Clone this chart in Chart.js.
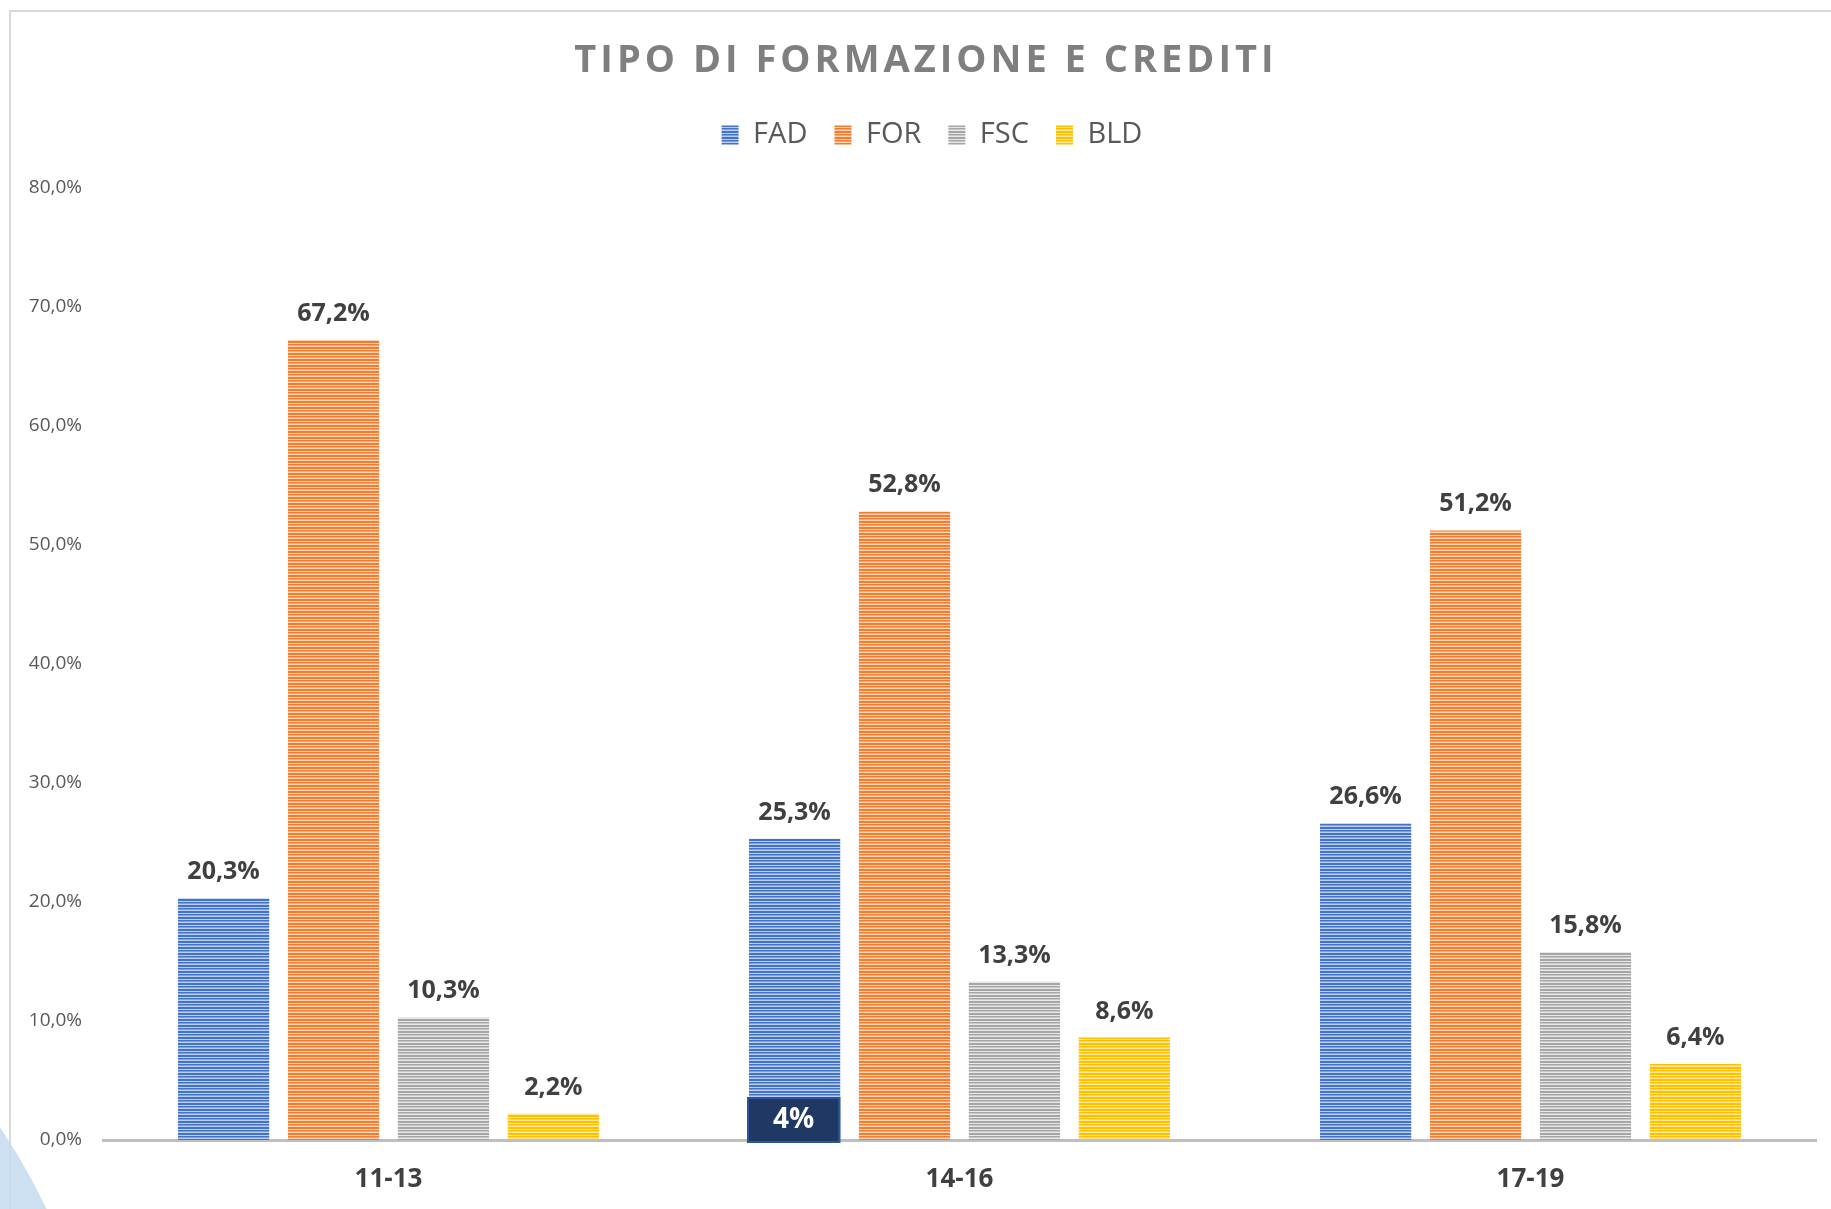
<!DOCTYPE html>
<html>
<head>
<meta charset="utf-8">
<script src="https://cdn.jsdelivr.net/npm/chart.js@4.4.1/dist/chart.umd.min.js"></script>
<style>
  html, body { margin: 0; padding: 0; background: #ffffff; overflow: hidden; width: 1831px; height: 1209px; }
  #card { position: absolute; left: 9px; top: 10px; width: 1900px; height: 1300px; border: 2px solid #D9D9D9; box-sizing: border-box; }
  #arc { position: absolute; left: -1096px; top: 865px; width: 1200px; height: 1200px; border-radius: 50%; background: rgba(196, 218, 240, 0.85); }
  #wrap { position: absolute; left: 0; top: 0; width: 1852px; height: 1209px; }
</style>
</head>
<body>
<div id="card"></div>
<div id="arc"></div>
<div id="wrap"><canvas id="c" width="1852" height="1209"></canvas></div>
<script>
// ---- Data ----
const chartTitle = 'TIPO DI FORMAZIONE E CREDITI';
const categories = ['11-13', '14-16', '17-19'];
const seriesNames = ['FAD', 'FOR', 'FSC', 'BLD'];
const fadValues = [20.3, 25.3, 26.6];
const forValues = [67.2, 52.8, 51.2];
const fscValues = [10.3, 13.3, 15.8];
const bldValues = [2.2, 8.6, 6.4];
const yTickValues = [0, 10, 20, 30, 40, 50, 60, 70, 80];
const yTickLabels = ['0,0%', '10,0%', '20,0%', '30,0%', '40,0%', '50,0%', '60,0%', '70,0%', '80,0%'];
// annotation box drawn over the FAD bar of 14-16
const annotationText = '4%';
const annotationSeries = 0;
const annotationCategory = 1;
const annotationValue = 3.6;

// ---- Styles ----
const baseColors = ['#4472C4', '#ED7D31', '#A5A5A5', '#FFC000'];
const lightColors = ['#BCCEEE', '#FAD2B6', '#E8E8E8', '#FFE7A0'];
const midColors = ['#819FD6', '#F3A471', '#C8C8C8', '#FFD45E'];

function makePattern(base, light, mid) {
  const c = document.createElement('canvas');
  c.width = 4; c.height = 6;
  const g = c.getContext('2d');
  const rows = [base, light, base, mid, light, base];
  rows.forEach((col, i) => { g.fillStyle = col; g.fillRect(0, i, 4, 1); });
  return g.createPattern(c, 'repeat');
}

const valuesBySeries = [fadValues, forValues, fscValues, bldValues];
const datasets = seriesNames.map((name, i) => ({
  label: name,
  data: valuesBySeries[i],
  backgroundColor: makePattern(baseColors[i], lightColors[i], midColors[i]),
  borderWidth: 0
}));

function fmtPct(v) { return v.toFixed(1).replace('.', ',') + '%'; }

const dataLabelsPlugin = {
  id: 'dataLabels',
  afterDatasetsDraw(chart) {
    const ctx = chart.ctx;
    ctx.save();
    ctx.font = 'bold 25px "Open Sans"';
    ctx.fillStyle = '#404040';
    ctx.textAlign = 'center';
    ctx.textBaseline = 'alphabetic';
    chart.data.datasets.forEach((ds, di) => {
      const meta = chart.getDatasetMeta(di);
      meta.data.forEach((bar, i) => {
        ctx.fillText(fmtPct(ds.data[i]), bar.x, bar.y - 19);
      });
    });
    // annotation box
    const bar = chart.getDatasetMeta(annotationSeries).data[annotationCategory];
    const yScale = chart.scales.y;
    const top = yScale.getPixelForValue(annotationValue);
    const bottom = yScale.getPixelForValue(0) + 3;
    const left = bar.x - bar.width / 2 - 2;
    const right = bar.x + bar.width / 2;
    ctx.fillStyle = '#203864';
    ctx.fillRect(left, top, right - left, bottom - top);
    ctx.strokeStyle = '#2F5597';
    ctx.lineWidth = 2;
    ctx.strokeRect(left + 1, top + 1, right - left - 2, bottom - top - 2);
    ctx.fillStyle = '#FFFFFF';
    ctx.font = 'bold 28px "Open Sans"';
    ctx.textBaseline = 'middle';
    ctx.fillText(annotationText, (left + right) / 2, (top + bottom) / 2);
    ctx.restore();
  }
};

function shiftDraw(chart, block, dx, spacing) {
  if (!block || block._shifted) return;
  const orig = block.draw;
  block.draw = function () {
    const ctx = chart.ctx;
    ctx.save();
    ctx.translate(dx, 0);
    if (spacing) ctx.letterSpacing = spacing;
    orig.apply(block, arguments);
    ctx.restore();
  };
  block._shifted = true;
}

const layoutTweaks = {
  id: 'layoutTweaks',
  beforeInit(chart) {
    const origFit = chart.legend.fit;
    chart.legend.fit = function () {
      origFit.call(chart.legend);
      this.height += 28;
    };
  },
  beforeDraw(chart) {
    shiftDraw(chart, chart.titleBlock, 18, '4px');
    shiftDraw(chart, chart.legend, 24, null);
  }
};

new Chart(document.getElementById('c'), {
  type: 'bar',
  data: { labels: categories, datasets: datasets },
  options: {
    responsive: false,
    animation: false,
    devicePixelRatio: 1,
    layout: { padding: { left: 0, right: 36, top: 0, bottom: 17 } },
    datasets: { bar: { categoryPercentage: 0.77, barPercentage: 0.83 } },
    plugins: {
      title: {
        display: true,
        text: chartTitle,
        color: '#7F7F7F',
        font: { family: '"Open Sans"', size: 38, weight: 'bold', lineHeight: 1.2 },
        padding: { top: 38, bottom: 10 }
      },
      legend: {
        display: true,
        position: 'top',
        labels: {
          color: '#595959',
          font: { family: '"Open Sans"', size: 29 },
          boxWidth: 17,
          boxHeight: 19,
          padding: 27
        }
      },
      tooltip: { enabled: false }
    },
    scales: {
      x: {
        afterFit(scale) { scale.height = 52; },
        grid: { display: false, drawTicks: false },
        border: { display: true, color: '#BFBFBF', width: 3 },
        ticks: { color: '#404040', font: { family: '"Open Sans"', size: 26, weight: 'bold' }, padding: 24 }
      },
      y: {
        min: 0,
        max: 80,
        afterFit(scale) { scale.width = 103; },
        afterBuildTicks(scale) { scale.ticks = yTickValues.map(v => ({ value: v })); },
        grid: { display: false, drawTicks: false },
        border: { display: false },
        ticks: {
          color: '#595959',
          font: { family: '"Open Sans"', size: 19 },
          padding: 21,
          callback(value) { const idx = yTickValues.indexOf(value); return idx >= 0 ? yTickLabels[idx] : ''; }
        }
      }
    }
  },
  plugins: [dataLabelsPlugin, layoutTweaks]
});
</script>
</body>
</html>
